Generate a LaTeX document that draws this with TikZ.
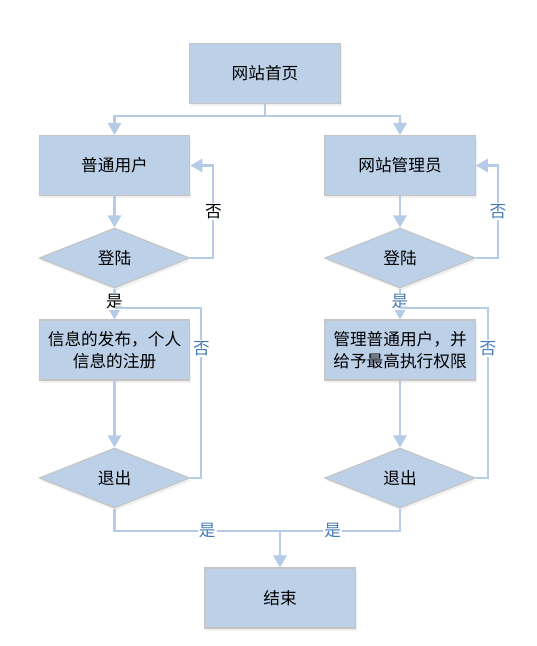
\documentclass[tikz,border=0pt]{standalone}
\usepackage{fontspec}
\setmainfont{Noto Sans CJK SC}
\usetikzlibrary{shapes.geometric,arrows.meta,shadows}
\definecolor{boxfill}{RGB}{188,208,232}
\definecolor{boxline}{RGB}{196,196,196}
\definecolor{linkcol}{RGB}{182,203,232}
\definecolor{lblblue}{RGB}{70,122,184}
\begin{document}
\begin{tikzpicture}[x=0.75pt,y=-0.75pt,
font=\fontsize{12.5}{17}\selectfont,
box/.style ={rectangle, draw=boxline, fill=boxfill, line width=0.8pt,
  minimum width=113pt, minimum height=45pt, align=center,
  drop shadow={opacity=0.12, shadow xshift=1pt, shadow yshift=-2pt}
},
test/.style ={diamond, draw=boxline, fill=boxfill, line width=0.8pt,
  minimum width=113pt, minimum height=45pt, inner sep=0pt,
  drop shadow={opacity=0.12, shadow xshift=1pt, shadow yshift=-2pt}
},
line/.style ={draw=linkcol, line width=1.6pt},
conn/.style ={line, -{Triangle[width=10pt,length=9pt]}},
lbl/.style ={fill=white, inner sep=1pt, text=lblblue},
lblk/.style ={fill=white, inner sep=1pt, text=black}]
\useasboundingbox (0,0) rectangle (536,646);
\node (home) at (265,73.5) [box] {网站首页};
\node (user) at (114.5,165.5) [box] {普通用户};
\node (admin) at (400,165.5) [box] {网站管理员};
\node (login1) at (114.5,258) [test] {登陆};
\node (login2) at (400,258) [test] {登陆};
\node (info1) at (114.5,350) [box] {信息的发布，个人\\信息的注册};
\node (info2) at (400,350) [box] {管理普通用户，并\\给予最高执行权限};
\node (exit1) at (114.5,478) [test] {退出};
\node (exit2) at (400,478) [test] {退出};
\node (end) at (280,598) [box] {结束};
\coordinate (j1) at (114.5,308);
\coordinate (j2) at (400,308);
\coordinate (j3) at (280,531);
% top split
\draw[conn] (home.south) -- ++(0,12) -| (user.north);
\draw[conn] (home.south) -- ++(0,12) -| (admin.north);
% left branch
\draw[conn] (user) -- (login1);
\draw[conn] (login1.east) -- ++(23,0) |- (user.east) node[pos=0.25,lblk] {否};
\draw[conn] (login1) -- (info1) node[pos=0.42,lblk] {是};
\draw[conn] (info1) -- (exit1);
\draw[line] (exit1.east) -- ++(11,0) |- (j1) node[pos=0.38,lbl] {否};
% right branch
\draw[conn] (admin) -- (login2);
\draw[conn] (login2.east) -- ++(22,0) |- (admin.east) node[pos=0.25,lbl] {否};
\draw[conn] (login2) -- (info2) node[pos=0.42,lbl] {是};
\draw[conn] (info2) -- (exit2);
\draw[line] (exit2.east) -- ++(12,0) |- (j2) node[pos=0.38,lbl] {否};
% join to end
\draw[line] (exit1.south) |- (j3) node[pos=0.78,lbl] {是};
\draw[line] (exit2.south) |- (j3) node[pos=0.78,lbl] {是};
\draw[conn] (j3) -- (end);
\end{tikzpicture}
\end{document}
